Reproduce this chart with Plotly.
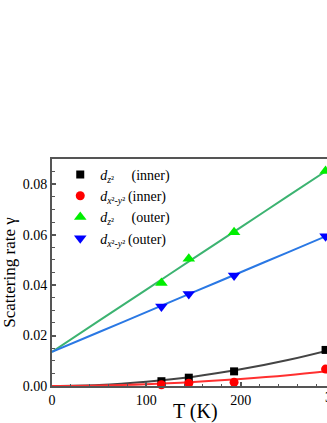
import plotly.graph_objects as go

T = [116, 145, 193, 290]
inner_dz2 = [0.0019, 0.0033, 0.0058, 0.0143]
inner_dx2y2 = [0.0005, 0.0011, 0.0015, 0.0067]
outer_dz2 = [0.0408, 0.0505, 0.0610, 0.0852]
outer_dx2y2 = [0.0315, 0.0365, 0.0438, 0.0594]

fit_T = [0, 50, 100, 150, 200, 250, 300]
fit_inner_dz2 = [0.0, 0.0004, 0.0017, 0.0037, 0.0066, 0.0103, 0.0148]
fit_inner_dx2y2 = [0.0, 0.0002, 0.0007, 0.0016, 0.0028, 0.0043, 0.0062]
fit_outer_dz2 = [0.0135, 0.0259, 0.0382, 0.0506, 0.0629, 0.0753, 0.0876]
fit_outer_dx2y2 = [0.0135, 0.0214, 0.0293, 0.0372, 0.0451, 0.0530, 0.0609]

x_ticks = [0, 100, 200, 300]
y_ticks = [0, 0.02, 0.04, 0.06, 0.08]
x_max = 291.5

NB = "\u00a0"
labels = [
    "<i>d</i><sub><i>z</i>²</sub>" + NB * 5 + "(inner)",
    "<i>d</i><sub><i>x</i>²<i>-y</i>²</sub>" + "\u2009(inner)",
    "<i>d</i><sub><i>z</i>²</sub>" + NB * 5 + "(outer)",
    "<i>d</i><sub><i>x</i>²<i>-y</i>²</sub>" + "\u2009(outer)",
]

SERIF = "Liberation Serif"

fig = go.Figure()
fits = [
    (fit_inner_dz2, "#444444"),
    (fit_inner_dx2y2, "#ff3030"),
    (fit_outer_dz2, "#3cb371"),
    (fit_outer_dx2y2, "#2a78e4"),
]
for ys, c in fits:
    fig.add_trace(go.Scatter(x=fit_T, y=ys, mode="lines", line=dict(color=c, width=2, shape="spline"),
                             showlegend=False, hoverinfo="skip"))

series = [
    (inner_dz2, "square", "#000000", 8),
    (inner_dx2y2, "circle", "#ff0000", 9),
    (outer_dz2, "triangle-up", "#00ee00", 11),
    (outer_dx2y2, "triangle-down", "#0000ff", 11),
]
for (ys, sym, c, sz), name in zip(series, labels):
    fig.add_trace(go.Scatter(x=T, y=ys, mode="markers", name=name,
                             marker=dict(symbol=sym, color=c, size=sz, line=dict(width=0)),
                             cliponaxis=False))

axis_common = dict(showline=True, linecolor="#555555", linewidth=2, ticks="inside",
                   tickcolor="#555555", ticklen=4, tickwidth=1.5,
                   showgrid=False, zeroline=False,
                   tickfont=dict(family=SERIF, size=14, color="#000"),
                   minor=dict(ticks="inside", ticklen=2.5, tickcolor="#555555", tickwidth=1.2))

fig.update_xaxes(range=[0, x_max], tickvals=x_ticks, mirror=True, **axis_common)
fig.update_yaxes(range=[0, 0.09], tickvals=y_ticks, tickformat=".2f",
                 title=dict(text="Scattering rate γ", font=dict(family=SERIF, size=17, color="#000"), standoff=6),
                 **axis_common)

# x-axis title centred on the full (cropped) frame, and the partly visible "300" tick label
fig.add_annotation(text="T (K)", xref="paper", yref="paper", x=0.52, y=0, yshift=-25,
                   xanchor="center", yanchor="middle", showarrow=False,
                   font=dict(family=SERIF, size=20, color="#000"))
fig.add_annotation(text=str(x_ticks[-1]), xref="paper", yref="paper", x=x_ticks[-1] / x_max, y=0, yshift=-11,
                   xanchor="center", yanchor="middle", showarrow=False,
                   font=dict(family=SERIF, size=14, color="#000"))

fig.update_layout(
    width=327, height=423,
    margin=dict(l=52, r=0, t=159, b=37, autoexpand=False),
    paper_bgcolor="white", plot_bgcolor="white",
    showlegend=True,
    legend=dict(x=0.03, y=1.0, xanchor="left", yanchor="top", bgcolor="rgba(0,0,0,0)",
                font=dict(family=SERIF, size=14, color="#000"),
                tracegroupgap=0, itemwidth=30),
)

fig.write_html("out.html", config={"displayModeBar": False},
               post_script="document.body.style.margin='0';document.body.style.overflow='hidden';")
